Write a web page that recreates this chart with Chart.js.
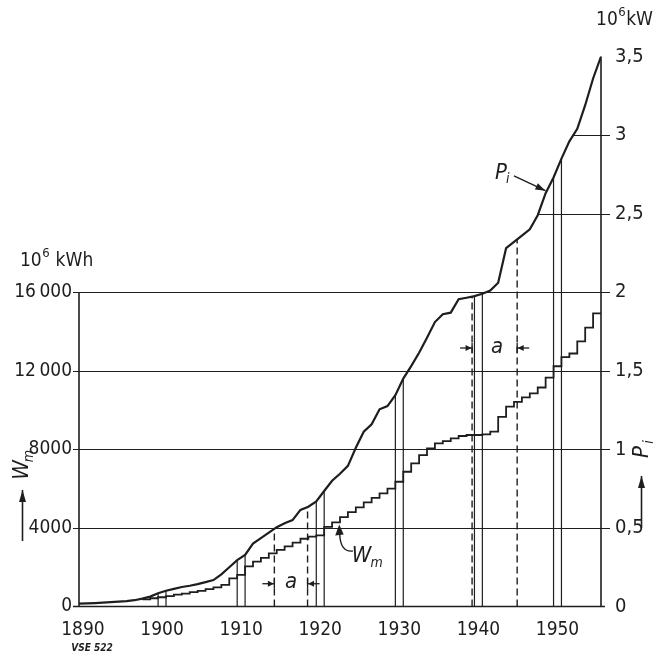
<!DOCTYPE html>
<html>
<head>
<meta charset="utf-8">
<script src="https://cdn.jsdelivr.net/npm/chart.js@4/dist/chart.umd.min.js"></script>
<style>
  html, body { margin: 0; padding: 0; background: #ffffff; }
  #wrap { width: 653px; height: 656px; }
</style>
</head>
<body>
<div id="wrap"><canvas id="c" width="653" height="656"></canvas></div>
<script>
// ---------------- data ----------------
// installed capacity P_i (10^6 kW) at the end of each year
const pYears = [1889,1890,1891,1892,1893,1894,1895,1896,1897,1898,
                1899,1900,1901,1902,1903,1904,1905,1906,1907,1908,
                1909,1910,1911,1912,1913,1914,1915,1916,1917,1918,
                1919,1920,1921,1922,1923,1924,1925,1926,1927,1928,
                1929,1930,1931,1932,1933,1934,1935,1936,1937,1938,
                1939,1940,1941,1942,1943,1944,1945,1946,1947,1948,
                1949,1950,1951,1952,1953,1954,1955];
const pValues = [0.018,0.020,0.022,0.025,0.028,0.031,0.034,0.040,0.050,0.063,
                 0.084,0.100,0.112,0.124,0.132,0.142,0.155,0.168,0.205,0.250,
                 0.295,0.328,0.400,0.435,0.470,0.505,0.530,0.550,0.615,0.635,
                 0.668,0.735,0.800,0.845,0.895,1.010,1.112,1.160,1.255,1.275,
                 1.345,1.450,1.530,1.615,1.710,1.810,1.860,1.870,1.955,1.965,
                 1.975,1.990,2.010,2.060,2.280,2.320,2.360,2.400,2.490,2.630,
                 2.730,2.850,2.960,3.040,3.190,3.360,3.500];

// annual energy W_m (10^6 kWh), one value per calendar year
const wYears = [1898,1899,1900,1901,1902,1903,1904,1905,1906,1907,
                1908,1909,1910,1911,1912,1913,1914,1915,1916,1917,
                1918,1919,1920,1921,1922,1923,1924,1925,1926,1927,
                1928,1929,1930,1931,1932,1933,1934,1935,1936,1937,
                1938,1939,1940,1941,1942,1943,1944,1945,1946,1947,
                1948,1949,1950,1951,1952,1953,1954,1955];
const wValues = [360,420,470,530,600,660,730,800,880,970,
                 1100,1430,1610,2040,2280,2480,2700,2880,3060,3250,
                 3450,3560,3620,4050,4280,4550,4800,5050,5300,5530,
                 5760,6000,6350,6860,7290,7710,8050,8300,8420,8560,
                 8680,8730,8730,8760,8900,9650,10180,10420,10650,10850,
                 11150,11650,12230,12700,12880,13500,14200,14920];

// reference verticals (solid) and war periods (dashed), as chart x-values
const dropYears = [1899.5,1900.5,1909.5,1910.5,1919.5,1920.5,1929.5,1930.5,1939.5,1940.5,1949.5,1950.5];
const warYears  = [1914.2,1918.4,1939.2,1944.9];

// ticks
const xTickValues = [1890,1900,1910,1920,1930,1940,1950];
const xTickLabels = ['1890','1900','1910','1920','1930','1940','1950'];
const wTickValues = [0,4000,8000,12000,16000];
const wTickLabels = ['0','4000','8000','12\u2009000','16\u2009000'];
const pTickValues = [0,0.5,1,1.5,2,2.5,3,3.5];
const pTickLabels = ['0','0,5','1','1,5','2','2,5','3','3,5'];

// ---------------- helpers ----------------
const FONT = "'DejaVu Sans Condensed','DejaVu Sans',sans-serif";
const INK = '#1e1e1e';

const pX = pYears.map(y => y + 0.5);           // end of year
function pAt(x) {
  for (let i = 0; i < pX.length - 1; i++) {
    if (x >= pX[i] && x <= pX[i + 1]) {
      const t = (x - pX[i]) / (pX[i + 1] - pX[i]);
      return pValues[i] + t * (pValues[i + 1] - pValues[i]);
    }
  }
  return x < pX[0] ? pValues[0] : pValues[pValues.length - 1];
}
function pCross(v) {
  for (let i = 0; i < pValues.length - 1; i++) {
    if (pValues[i] <= v && pValues[i + 1] >= v) {
      return pX[i] + (v - pValues[i]) / (pValues[i + 1] - pValues[i]) * (pX[i + 1] - pX[i]);
    }
  }
  return pX[pX.length - 1];
}
function wAt(x) {
  const i = wYears.indexOf(Math.round(x));
  return i >= 0 ? wValues[i] : 0;
}
function dropData(xs) {
  const d = [];
  xs.forEach(x => { d.push({x: x, y: 0}); d.push({x: x, y: pAt(x)}); d.push({x: x, y: null}); });
  return d;
}
function arrow(ctx, x1, y1, x2, y2, len, half) {
  ctx.beginPath(); ctx.moveTo(x1, y1); ctx.lineTo(x2, y2); ctx.stroke();
  const a = Math.atan2(y2 - y1, x2 - x1);
  ctx.beginPath();
  ctx.moveTo(x2, y2);
  ctx.lineTo(x2 - len * Math.cos(a) + half * Math.sin(a), y2 - len * Math.sin(a) - half * Math.cos(a));
  ctx.lineTo(x2 - len * Math.cos(a) - half * Math.sin(a), y2 - len * Math.sin(a) + half * Math.cos(a));
  ctx.closePath(); ctx.fill();
}
function supText(ctx, x, y, base, sup, rest, size, align) {
  ctx.textBaseline = 'middle';
  ctx.font = `${size}px ${FONT}`;
  const wb = ctx.measureText(base).width;
  const wr = ctx.measureText(rest).width;
  ctx.font = `${Math.round(size * 0.68)}px ${FONT}`;
  const ws = ctx.measureText(sup).width;
  let x0 = align === 'right' ? x - (wb + ws + wr) : x;
  ctx.textAlign = 'left';
  ctx.font = `${size}px ${FONT}`;
  ctx.fillText(base, x0, y);
  ctx.font = `${Math.round(size * 0.68)}px ${FONT}`;
  ctx.fillText(sup, x0 + wb + 0.5, y - size * 0.38);
  ctx.font = `${size}px ${FONT}`;
  ctx.fillText(rest, x0 + wb + ws + 1, y);
}

// ---------------- plugins ----------------
const framePlugin = {
  id: 'frame',
  beforeDatasetsDraw(chart) {
    const {ctx, chartArea: a, scales: {x, yL, yR}} = chart;
    ctx.save();
    ctx.strokeStyle = INK;
    ctx.lineWidth = 1.2;
    wTickValues.forEach(v => {
      if (v === 0) return;
      const y = Math.round(yL.getPixelForValue(v)) + 0.5;
      ctx.beginPath(); ctx.moveTo(a.left - 6, y); ctx.lineTo(a.right + 9, y); ctx.stroke();
    });
    pTickValues.forEach(v => {
      if (v <= 2 || v >= 3.5) return;
      const y = Math.round(yR.getPixelForValue(v)) + 0.5;
      const xs = x.getPixelForValue(pCross(v));
      ctx.beginPath(); ctx.moveTo(xs, y); ctx.lineTo(a.right + 9, y); ctx.stroke();
    });
    ctx.lineWidth = 1.6;
    const y0 = yL.getPixelForValue(0);
    ctx.beginPath(); ctx.moveTo(a.left - 6, y0); ctx.lineTo(a.right + 4, y0); ctx.stroke();
    ctx.beginPath(); ctx.moveTo(a.left, y0); ctx.lineTo(a.left, yL.getPixelForValue(16000)); ctx.stroke();
    ctx.beginPath(); ctx.moveTo(a.right, y0); ctx.lineTo(a.right, yR.getPixelForValue(3.5)); ctx.stroke();
    ctx.restore();
  }
};

const annotPlugin = {
  id: 'annot',
  afterDatasetsDraw(chart) {
    const {ctx, scales: {x, yL, yR}} = chart;
    ctx.save();
    ctx.fillStyle = INK; ctx.strokeStyle = INK; ctx.lineWidth = 1.4;

    supText(ctx, 20, 261, '10', '6', ' kWh', 19, 'left');
    supText(ctx, 652, 20, '10', '6', 'kW', 19, 'right');

    // P_i label + arrow
    const plx = x.getPixelForValue(1942.1), ply = yR.getPixelForValue(2.76);
    ctx.textBaseline = 'middle'; ctx.textAlign = 'left';
    ctx.font = `italic 22px ${FONT}`;
    ctx.fillText('P', plx, ply);
    const pw = ctx.measureText('P').width;
    ctx.font = `italic 14px ${FONT}`;
    ctx.fillText('i', plx + pw - 1, ply + 7);
    const tipX = 1948.6;
    arrow(ctx, plx + pw + 7, ply + 3, x.getPixelForValue(tipX) - 1, yR.getPixelForValue(pAt(tipX)) - 1, 10, 3.5);

    // W_m label + curved arrow
    const wlx = x.getPixelForValue(1924.0), wly = yL.getPixelForValue(2570);
    ctx.font = `italic 22px ${FONT}`;
    ctx.fillText('W', wlx, wly);
    const ww = ctx.measureText('W').width;
    ctx.font = `italic 14px ${FONT}`;
    ctx.fillText('m', wlx + ww - 1, wly + 7);
    const wtx = x.getPixelForValue(1922.4), wty = yL.getPixelForValue(wAt(1922.4)) + 2;
    ctx.beginPath();
    ctx.moveTo(wlx + 1, wly - 5);
    ctx.quadraticCurveTo(wtx + 1, wty + 28, wtx + 0.5, wty + 9);
    ctx.stroke();
    ctx.beginPath();
    ctx.moveTo(wtx, wty);
    ctx.lineTo(wtx - 4, wty + 11);
    ctx.lineTo(wtx + 4.5, wty + 10);
    ctx.closePath(); ctx.fill();

    // "a" intervals
    const aLabels = [{x0: warYears[0], x1: warYears[1], lx: 1916.3, ly: 0.145},
                     {x0: warYears[2], x1: warYears[3], lx: 1942.35, ly: 1.645}];
    aLabels.forEach(o => {
      const yy = yR.getPixelForValue(o.ly);
      ctx.font = `italic 22px ${FONT}`;
      ctx.textAlign = 'center';
      ctx.fillText('a', x.getPixelForValue(o.lx), yy - 1);
      const xa = x.getPixelForValue(o.x0), xb = x.getPixelForValue(o.x1);
      ctx.lineWidth = 1.3;
      arrow(ctx, xa - 12, yy, xa - 0.5, yy, 6, 3);
      arrow(ctx, xb + 12, yy, xb + 0.5, yy, 6, 3);
      ctx.beginPath(); ctx.moveTo(xa, yy - 5); ctx.lineTo(xa, yy + 5); ctx.stroke();
      ctx.beginPath(); ctx.moveTo(xb, yy - 5); ctx.lineTo(xb, yy + 5); ctx.stroke();
    });

    // left axis quantity
    ctx.lineWidth = 1.6;
    arrow(ctx, 22.5, 541, 22.5, 490, 12, 3.5);
    ctx.save();
    ctx.translate(22, 470); ctx.rotate(-Math.PI / 2);
    ctx.textAlign = 'center'; ctx.textBaseline = 'middle';
    ctx.font = `italic 22px ${FONT}`;
    ctx.fillText('W', 0, 0);
    ctx.font = `italic 14px ${FONT}`;
    ctx.fillText('m', 14, 7);
    ctx.restore();

    // right axis quantity
    arrow(ctx, 641.5, 528, 641.5, 476, 12, 3.5);
    ctx.save();
    ctx.translate(642, 452); ctx.rotate(-Math.PI / 2);
    ctx.textAlign = 'center'; ctx.textBaseline = 'middle';
    ctx.font = `italic 22px ${FONT}`;
    ctx.fillText('P', 0, 0);
    ctx.font = `italic 14px ${FONT}`;
    ctx.fillText('i', 10, 7);
    ctx.restore();

    ctx.font = `italic bold 10px ${FONT}`;
    ctx.textAlign = 'center';
    ctx.fillText('VSE 522', 92, 648);
    ctx.restore();
  }
};

// ---------------- chart ----------------
const pData = pYears.map((y, i) => ({x: y + 0.5, y: pValues[i]}));
const wData = wYears.map((y, i) => ({x: y - 0.5, y: wValues[i]}));
wData.push({x: wYears[wYears.length - 1] + 0.5, y: wValues[wValues.length - 1]});

new Chart(document.getElementById('c'), {
  type: 'line',
  data: {
    datasets: [
      {label: 'P_i', data: pData, yAxisID: 'yR', borderColor: INK, borderWidth: 2.2,
       pointRadius: 0, tension: 0, fill: false},
      {label: 'W_m', data: wData, yAxisID: 'yL', stepped: true, borderColor: INK, borderWidth: 1.8,
       pointRadius: 0, fill: false},
      {label: 'drop', data: dropData(dropYears), yAxisID: 'yR', borderColor: INK, borderWidth: 1.2,
       pointRadius: 0, spanGaps: false, fill: false},
      {label: 'war', data: dropData(warYears), yAxisID: 'yR', borderColor: INK, borderWidth: 1.4,
       borderDash: [7, 4], pointRadius: 0, spanGaps: false, fill: false}
    ]
  },
  options: {
    responsive: false,
    animation: false,
    events: [],
    layout: {padding: {top: 56.5, left: 0, right: 0, bottom: 0}},
    plugins: {legend: {display: false}, tooltip: {enabled: false}},
    scales: {
      x: {
        type: 'linear', position: 'bottom', min: 1889.5, max: 1955.5,
        grid: {display: false, drawTicks: false}, border: {display: false},
        afterBuildTicks: s => { s.ticks = xTickValues.map(v => ({value: v})); },
        afterFit: s => { s.height = 49.5; },
        ticks: {font: {family: FONT, size: 19}, color: INK, padding: 12, maxRotation: 0, autoSkip: false,
                callback: v => xTickLabels[xTickValues.indexOf(v)]}
      },
      yL: {
        type: 'linear', position: 'left', min: 0, max: 28000,
        grid: {display: false, drawTicks: false}, border: {display: false},
        afterBuildTicks: s => { s.ticks = wTickValues.map(v => ({value: v})); },
        afterFit: s => { s.width = 79; },
        ticks: {font: {family: FONT, size: 19}, color: INK, padding: 7,
                callback: v => wTickLabels[wTickValues.indexOf(v)]}
      },
      yR: {
        type: 'linear', position: 'right', min: 0, max: 3.5,
        grid: {display: false, drawTicks: false}, border: {display: false},
        afterBuildTicks: s => { s.ticks = pTickValues.map(v => ({value: v})); },
        afterFit: s => { s.width = 52; },
        ticks: {font: {family: FONT, size: 20}, color: INK, padding: 14,
                callback: v => pTickLabels[pTickValues.indexOf(v)]}
      }
    }
  },
  plugins: [framePlugin, annotPlugin]
});
</script>
</body>
</html>
